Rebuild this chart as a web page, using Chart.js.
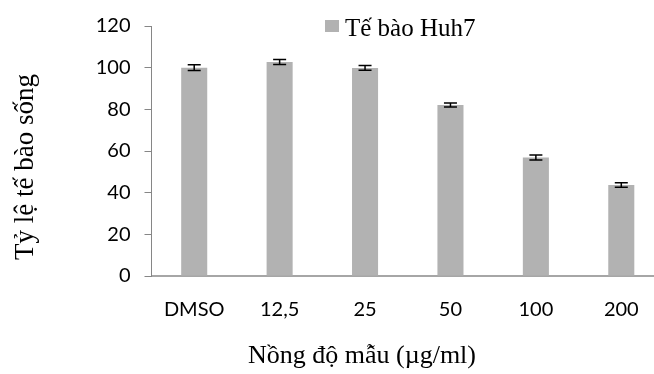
<!DOCTYPE html>
<html>
<head>
<meta charset="utf-8">
<script src="https://cdn.jsdelivr.net/npm/chart.js@4/dist/chart.umd.min.js"></script>
<style>
  html, body { margin: 0; padding: 0; background: #ffffff; overflow: hidden; width: 654px; height: 374px; }
  canvas { display: block; }
</style>
</head>
<body>
<canvas id="c" width="664" height="374"></canvas>
<script>
const categories = ["DMSO", "12,5", "25", "50", "100", "200"];
const survival = [100, 102.7, 99.9, 82.1, 56.9, 43.7];
const errors = [1.4, 1.2, 1.1, 1.0, 1.2, 1.1];
const yTicks = [0, 20, 40, 60, 80, 100, 120];
const seriesLabel = "Tế bào Huh7";
const xTitle = "Nồng độ mẫu (µg/ml)";
const yTitle = "Tỷ lệ tế bào sống";

const errorBars = {
  id: 'errorBars',
  afterDatasetsDraw(chart) {
    const ctx = chart.ctx;
    const meta = chart.getDatasetMeta(0);
    const ys = chart.scales.y;
    ctx.save();
    ctx.strokeStyle = '#000000';
    ctx.lineWidth = 1.5;
    meta.data.forEach((bar, i) => {
      const x = bar.x;
      const yHi = ys.getPixelForValue(survival[i] + errors[i]);
      const yLo = ys.getPixelForValue(survival[i] - errors[i]);
      const cap = 6.5;
      ctx.beginPath();
      ctx.moveTo(x, yHi); ctx.lineTo(x, yLo);
      ctx.moveTo(x - cap, yHi); ctx.lineTo(x + cap, yHi);
      ctx.moveTo(x - cap, yLo); ctx.lineTo(x + cap, yLo);
      ctx.stroke();
    });
    ctx.restore();
  }
};

const titlesAndLegend = {
  id: 'titlesAndLegend',
  afterDraw(chart) {
    const ctx = chart.ctx;
    ctx.save();
    ctx.fillStyle = '#000000';
    // legend
    ctx.fillStyle = chart.data.datasets[0].backgroundColor;
    ctx.fillRect(325, 20, 14, 12);
    ctx.fillStyle = '#000000';
    ctx.font = '25px "Liberation Serif", "Times New Roman", serif';
    ctx.textAlign = 'left';
    ctx.textBaseline = 'alphabetic';
    ctx.fillText(seriesLabel, 345, 36);
    // x title
    ctx.font = '26px "Liberation Serif", "Times New Roman", serif';
    ctx.textAlign = 'center';
    ctx.fillText(xTitle, 362, 363);
    // y title
    ctx.translate(26, 167);
    ctx.rotate(-Math.PI / 2);
    ctx.font = '27px "Liberation Serif", "Times New Roman", serif';
    ctx.textAlign = 'center';
    ctx.textBaseline = 'middle';
    ctx.fillText(yTitle, 0, 0);
    ctx.restore();
  }
};

new Chart(document.getElementById('c'), {
  type: 'bar',
  data: {
    labels: categories,
    datasets: [{
      label: seriesLabel,
      data: survival,
      backgroundColor: '#b2b2b2',
      borderWidth: 0,
      barPercentage: 0.305,
      categoryPercentage: 1.0
    }]
  },
  options: {
    responsive: false,
    animation: false,
    devicePixelRatio: 1,
    layout: { padding: { top: 26, left: 0, right: 0, bottom: 0 } },
    plugins: { legend: { display: false }, tooltip: { enabled: false }, title: { display: false } },
    scales: {
      x: {
        grid: { display: false, drawTicks: false },
        border: { display: true, color: '#a6a6a6', width: 2 },
        ticks: { color: '#000000', font: { family: 'Lato, "Open Sans", sans-serif', size: 20 }, padding: 22, maxRotation: 0, autoSkip: false },
        afterFit(scale) { scale.height = 98; }
      },
      y: {
        min: 0, max: 120,
        afterBuildTicks(scale) { scale.ticks = yTicks.map(v => ({ value: v })); },
        grid: { display: true, drawOnChartArea: false, drawTicks: true, tickLength: 7, color: '#868686' },
        border: { display: true, color: '#868686', width: 1 },
        ticks: { color: '#000000', font: { family: 'Lato, "Open Sans", sans-serif', size: 20 }, padding: 14 },
        afterFit(scale) { scale.width = 151.5; }
      }
    }
  },
  plugins: [errorBars, titlesAndLegend]
});
</script>
</body>
</html>
